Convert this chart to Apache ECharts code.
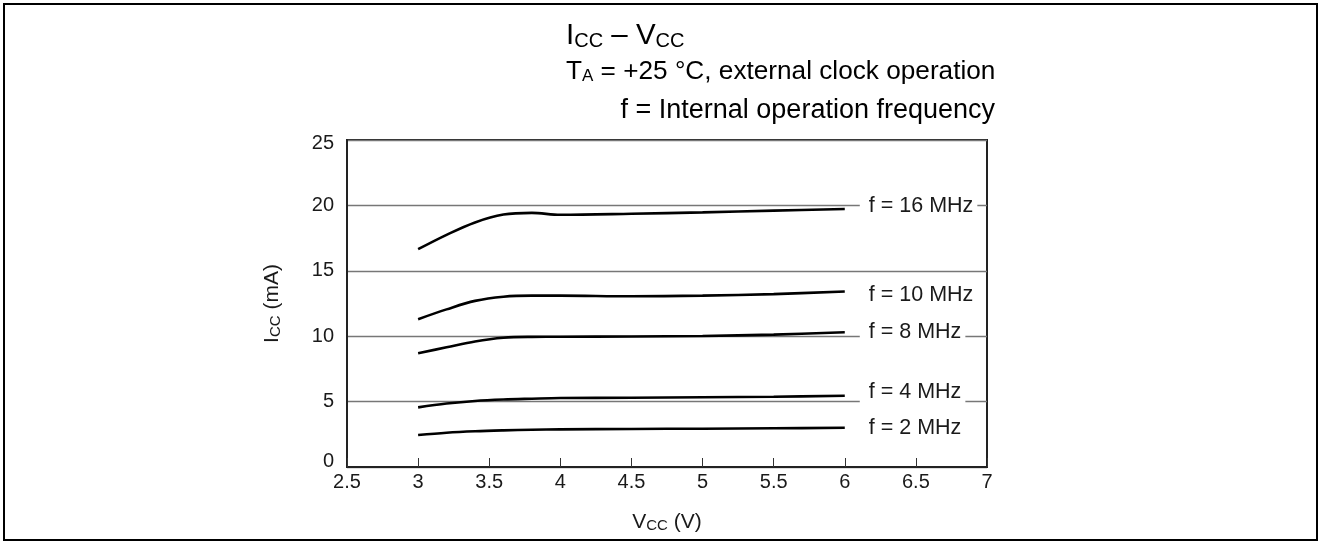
<!DOCTYPE html>
<html>
<head>
<meta charset="utf-8">
<script src="https://cdn.jsdelivr.net/npm/echarts@6/dist/echarts.min.js"></script>
<style>
  html, body { margin: 0; padding: 0; background: #fff; }
  #chart { width: 1320px; height: 542px; }
</style>
</head>
<body>
<div id="chart"></div>
<script>
// Supply voltage sample points (V)
const vcc = [3.0, 3.2, 3.4, 3.6, 3.8, 4.0, 4.5, 5.0, 5.5, 6.0];

// Supply current (mA) per operating frequency
const icc16MHz = [16.65, 17.75, 18.7, 19.3, 19.43, 19.28, 19.36, 19.47, 19.6, 19.72];
const icc10MHz = [11.3, 12.05, 12.7, 13.02, 13.1, 13.1, 13.05, 13.1, 13.22, 13.42];
const icc8MHz  = [8.7, 9.15, 9.6, 9.88, 9.95, 9.96, 9.98, 10.02, 10.12, 10.3];
const icc4MHz  = [4.56, 4.85, 5.05, 5.16, 5.22, 5.27, 5.3, 5.33, 5.37, 5.45];
const icc2MHz  = [2.45, 2.62, 2.73, 2.8, 2.85, 2.88, 2.91, 2.93, 2.96, 3.0];

const curveNames = ['f = 16 MHz', 'f = 10 MHz', 'f = 8 MHz', 'f = 4 MHz', 'f = 2 MHz'];
const curveValues = [icc16MHz, icc10MHz, icc8MHz, icc4MHz, icc2MHz];

// Axis ranges and ticks
const xMin = 2.5, xMax = 7, xStep = 0.5;
const yMin = 0, yMax = 25, yStep = 5;

// Vertical nudges for the curve name tags (px)
const tagOffsets = [-3, 3.5, 0, -4, 0.5];

const FONT = "'Liberation Sans', Arial, Helvetica, sans-serif";
const INK = '#1a1a1a';

const series = curveValues.map((vals, i) => ({
  name: curveNames[i],
  type: 'line',
  data: vcc.map((v, k) => [v, vals[k]]),
  smooth: 0.35,
  symbol: 'none',
  lineStyle: { color: '#000', width: 2.6 },
  z: 3,
  endLabel: {
    show: true,
    formatter: curveNames[i],
    distance: 15,
    offset: [0, tagOffsets[i]],
    color: INK,
    fontFamily: FONT,
    fontSize: 21.5,
    backgroundColor: '#fff',
    padding: [3, 4, 3, 9]
  },
  emphasis: { disabled: true },
  animation: false
}));

const rich = {
  b: { fontFamily: FONT, fontSize: 29.5, color: INK, verticalAlign: 'bottom' },
  s: { fontFamily: FONT, fontSize: 20, color: INK, verticalAlign: 'bottom' },
  t: { fontFamily: FONT, fontSize: 26.2, color: INK, verticalAlign: 'bottom' },
  ts: { fontFamily: FONT, fontSize: 17, color: INK, verticalAlign: 'bottom' },
  u: { fontFamily: FONT, fontSize: 27, color: INK, verticalAlign: 'bottom' },
  a: { fontFamily: FONT, fontSize: 21, color: INK, verticalAlign: 'bottom' },
  as: { fontFamily: FONT, fontSize: 15, color: INK, verticalAlign: 'bottom' }
};

// End tick labels on the current axis sit slightly inside the frame
const yTickRich = {
  lo: { fontFamily: FONT, fontSize: 20, color: INK, padding: [0, 0, 12, 0] },
  hi: { fontFamily: FONT, fontSize: 20, color: INK, padding: [6, 0, 0, 0] }
};

const chart = echarts.init(document.getElementById('chart'), null, { renderer: 'canvas' });
chart.setOption({
  animation: false,
  backgroundColor: '#fff',
  graphic: [
    {
      type: 'rect',
      shape: { x: 4, y: 4, width: 1313, height: 536 },
      style: { fill: 'none', stroke: '#000', lineWidth: 2 },
      silent: true
    },
    {
      type: 'text', x: 566, y: 36,
      style: { text: '{b|I}{s|CC}{b| – V}{s|CC}', rich, align: 'left', verticalAlign: 'middle' },
      silent: true
    },
    {
      type: 'text', x: 566, y: 72,
      style: { text: '{t|T}{ts|A}{t| = +25 °C, external clock operation}', rich, align: 'left', verticalAlign: 'middle' },
      silent: true
    },
    {
      type: 'text', x: 995, y: 111,
      style: { text: '{u|f = Internal operation frequency}', rich, align: 'right', verticalAlign: 'middle' },
      silent: true
    }
  ],
  grid: {
    left: 347, top: 140, width: 640, height: 327,
    show: true, borderColor: '#222', borderWidth: 2, backgroundColor: 'transparent'
  },
  xAxis: {
    type: 'value',
    min: xMin, max: xMax, interval: xStep,
    name: '{a|V}{as|CC}{a| (V)}',
    nameLocation: 'middle',
    nameGap: 45,
    nameTextStyle: { rich },
    axisLine: { show: true, lineStyle: { color: '#222', width: 2 } },
    axisTick: { show: true, inside: true, length: 9, lineStyle: { color: '#333', width: 1 } },
    axisLabel: { color: INK, fontFamily: FONT, fontSize: 20, margin: 5 },
    splitLine: { show: false }
  },
  yAxis: {
    type: 'value',
    min: yMin, max: yMax, interval: yStep,
    name: '{a|I}{as|CC}{a| (mA)}',
    nameLocation: 'middle',
    nameRotate: 90,
    nameGap: 64,
    nameTextStyle: { rich },
    axisLine: { show: true, lineStyle: { color: '#222', width: 2 } },
    axisTick: { show: false },
    axisLabel: {
      color: INK, fontFamily: FONT, fontSize: 20, margin: 13,
      rich: yTickRich,
      formatter: (v) => v === yMin ? '{lo|' + v + '}' : (v === yMax ? '{hi|' + v + '}' : String(v))
    },
    splitLine: { show: true, lineStyle: { color: '#777', width: 1.3 } }
  },
  series
});
</script>
</body>
</html>
